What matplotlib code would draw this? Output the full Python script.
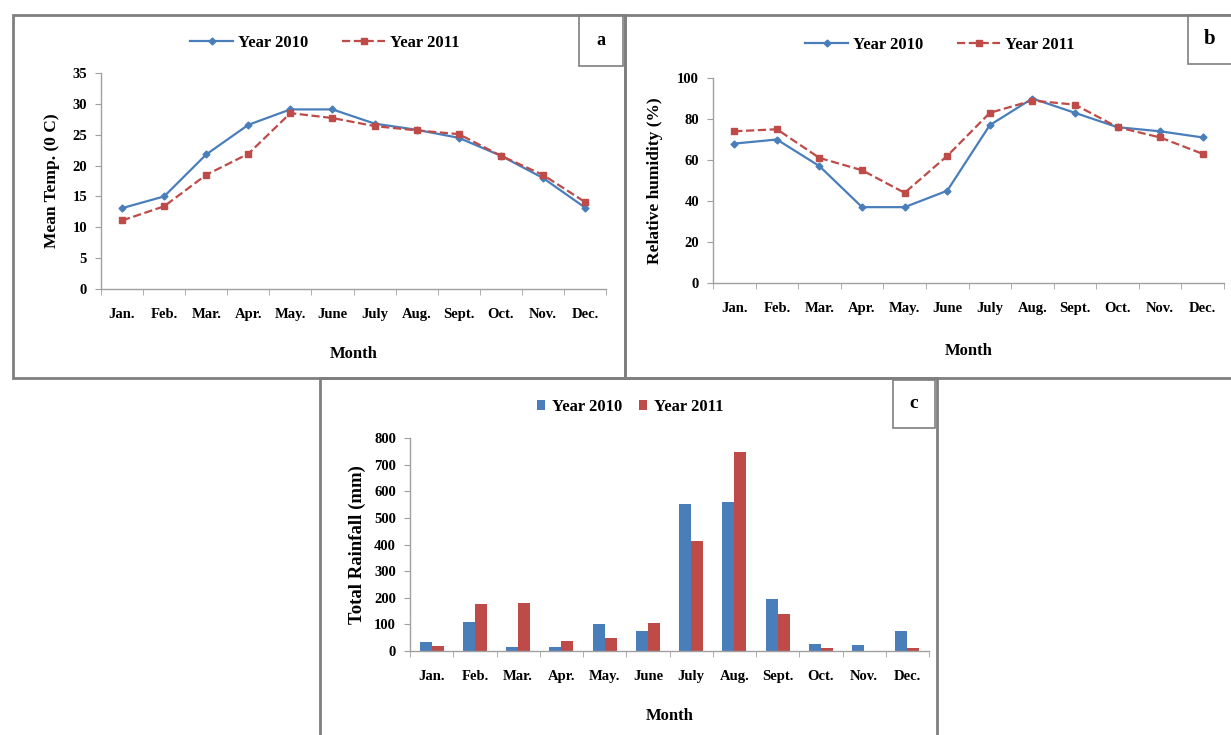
import numpy as np
import matplotlib
matplotlib.use("Agg")
import matplotlib.pyplot as plt
from matplotlib.patches import Rectangle

# -------------------------------
# Data
# -------------------------------
months = ["Jan.", "Feb.", "Mar.", "Apr.", "May.", "June", "July", "Aug.", "Sept.", "Oct.", "Nov.", "Dec."]

temp_2010 = [13.1, 15.0, 21.8, 26.6, 29.1, 29.1, 26.8, 25.8, 24.5, 21.6, 18.0, 13.2]
temp_2011 = [11.1, 13.4, 18.5, 21.9, 28.5, 27.7, 26.4, 25.7, 25.1, 21.6, 18.5, 14.1]

hum_2010 = [68, 70, 57, 37, 37, 45, 77, 90, 83, 76, 74, 71]
hum_2011 = [74, 75, 61, 55, 44, 62, 83, 89, 87, 76, 71, 63]

rain_2010 = [35, 110, 15, 15, 100, 74, 553, 561, 197, 27, 21, 75]
rain_2011 = [19, 175, 181, 38, 48, 106, 413, 749, 138, 10, 0, 12]

# -------------------------------
# Style
# -------------------------------
W, H = 1231, 735
plt.rcParams["font.family"] = ["Liberation Serif", "DejaVu Serif"]
plt.rcParams["font.weight"] = "bold"
BLUE = "#4A7EBB"
RED = "#BE4B48"
AXC = "#A0A0A0"
FRAME = "#7F7F7F"
TICK_FS = 10.5

fig = plt.figure(figsize=(W / 100, H / 100), dpi=100)


def px_axes(left, top, right, bottom):
    return fig.add_axes([left / W, 1 - bottom / H, (right - left) / W, (bottom - top) / H])


def frame(left, top, right, bottom, lw=2.0):
    fig.patches.append(Rectangle((left / W, 1 - bottom / H), (right - left) / W, (bottom - top) / H,
                                 transform=fig.transFigure, fill=False, edgecolor=FRAME, lw=lw))


def style_axes(ax, ymax, ystep):
    x = np.arange(len(months))
    ax.set_xlim(-0.5, len(months) - 0.5)
    ax.set_ylim(0, ymax)
    ax.set_yticks(np.arange(0, ymax + 1, ystep))
    ax.set_xticks(x)
    ax.set_xticklabels(months)
    ax.set_xticks(np.arange(-0.5, len(months), 1), minor=True)
    for s in ["top", "right"]:
        ax.spines[s].set_visible(False)
    for s in ["left", "bottom"]:
        ax.spines[s].set_color(AXC)
        ax.spines[s].set_linewidth(1.0)
    ax.tick_params(axis="x", which="major", length=0, pad=14, labelsize=TICK_FS)
    ax.tick_params(axis="x", which="minor", length=4, color=AXC, direction="out")
    ax.tick_params(axis="y", length=4, color=AXC, labelsize=TICK_FS, pad=6)
    for lab in ax.get_xticklabels() + ax.get_yticklabels():
        lab.set_fontweight("bold")


def label_box(left, top, right, bottom, letter, fs=14):
    frame(left, top, right, bottom, lw=1.2)
    fig.text((left + right) / 2 / W, 1 - (top + bottom) / 2 / H, letter,
             ha="center", va="center", fontsize=fs, fontweight="bold")


# -------------------------------
# Outer frames
# -------------------------------
frame(13, 15, 625, 378)
frame(625, 15, 1232, 378)
frame(320, 378, 937, 736)

x = np.arange(len(months))

# -------------------------------
# a) Mean temperature
# -------------------------------
ax_a = px_axes(101, 73, 606, 289)
ax_a.plot(x, temp_2010, "-", color=BLUE, lw=1.6, marker="D", ms=3.5, label="Year 2010")
ax_a.plot(x, temp_2011, "--", color=RED, lw=1.6, marker="s", ms=5, label="Year 2011")
style_axes(ax_a, 35, 5)
ax_a.set_ylabel("Mean Temp. (0 C)", fontsize=12.5, fontweight="bold", labelpad=9)
ax_a.set_xlabel("Month", fontsize=12, fontweight="bold", labelpad=18)
ax_a.legend(loc="center", bbox_to_anchor=(325 / W, 1 - 43 / H), bbox_transform=fig.transFigure,
            ncol=2, frameon=False, handlelength=2.6, handletextpad=0.3, columnspacing=2.0,
            prop={"weight": "bold", "size": 12})
label_box(579, 15, 623, 66, "a", fs=13)

# -------------------------------
# b) Relative humidity
# -------------------------------
ax_b = px_axes(713, 78, 1224, 283)
ax_b.plot(x, hum_2010, "-", color=BLUE, lw=1.6, marker="D", ms=3.5, label="Year 2010")
ax_b.plot(x, hum_2011, "--", color=RED, lw=1.6, marker="s", ms=5, label="Year 2011")
style_axes(ax_b, 100, 20)
ax_b.set_ylabel("Relative humidity (%)", fontsize=12.5, fontweight="bold", labelpad=10)
ax_b.set_xlabel("Month", fontsize=12, fontweight="bold", labelpad=20)
ax_b.legend(loc="center", bbox_to_anchor=(940 / W, 1 - 45 / H), bbox_transform=fig.transFigure,
            ncol=2, frameon=False, handlelength=2.6, handletextpad=0.3, columnspacing=2.0,
            prop={"weight": "bold", "size": 12})
label_box(1188, 15, 1232, 64, "b", fs=15)

# -------------------------------
# c) Total rainfall
# -------------------------------
ax_c = px_axes(410, 438, 929, 651)
bw = 0.28
ax_c.bar(x - bw / 2, rain_2010, width=bw, color=BLUE, label="Year 2010")
ax_c.bar(x + bw / 2, rain_2011, width=bw, color=RED, label="Year 2011")
style_axes(ax_c, 800, 100)
ax_c.set_ylabel("Total Rainfall (mm)", fontsize=13.5, fontweight="bold", labelpad=6)
ax_c.set_xlabel("Month", fontsize=12, fontweight="bold", labelpad=18)
ax_c.legend(loc="center", bbox_to_anchor=(630 / W, 1 - 407 / H), bbox_transform=fig.transFigure,
            ncol=2, frameon=False, handlelength=0.5, handleheight=0.6, handletextpad=0.4,
            columnspacing=1.0, prop={"weight": "bold", "size": 12})
label_box(893, 380, 935, 428, "c", fs=14)

fig.savefig("out.png", dpi=100, facecolor="white")
